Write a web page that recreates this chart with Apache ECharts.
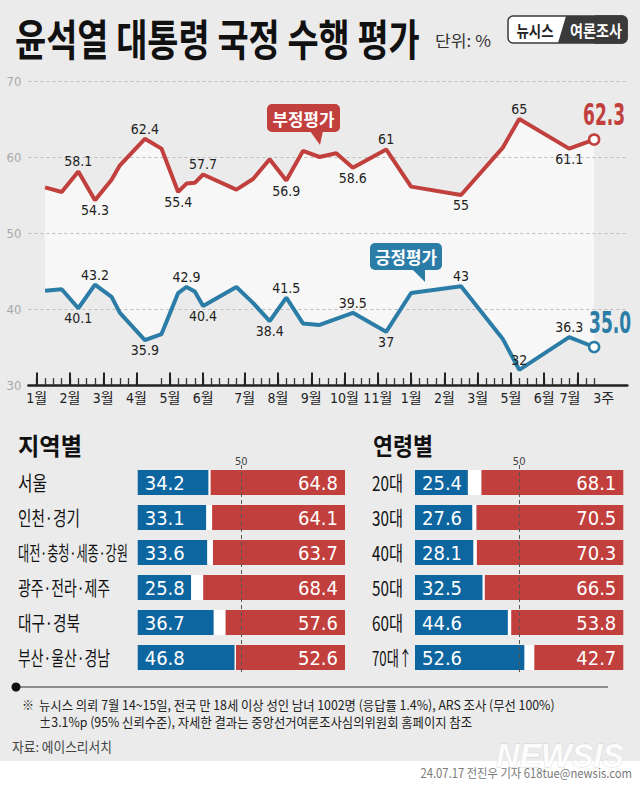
<!DOCTYPE html>
<html><head><meta charset="utf-8">
<script src="https://cdn.jsdelivr.net/npm/echarts@6/dist/echarts.min.js"></script>
<style>html,body{margin:0;padding:0;background:#fff}#c{width:640px;height:785px}</style>
</head><body><div id="c"></div>
<script>
const NARROW = "'Liberation Sans Narrow','DejaVu Sans Condensed','Noto Sans CJK KR',sans-serif";
const KR = "'Noto Sans CJK KR','Noto Sans',sans-serif";
const RED = '#c1403d', BLUE = '#2b7da7', BAR_BLUE = '#0e66a0', BAR_RED = '#c1403d', BG = '#ebebeb', LIGHT = '#f7f7f7';

// ---- line chart data (week index from first January tick) ----
const monthTicks = [0,4,8,12,16,20,25,29,33,37,41,45,49,53,57,61,65,67];
const monthLabels = ['1월','2월','3월','4월','5월','6월','7월','8월','9월','10월','11월','1월','2월','3월','5월','6월','7월','3주'];
const hiddenTicks = [13,14];
const negWeeks = [1,3,5,7,9,10,13,15,17,18,19,20,24,26,28,30,32,34,36,38,42,45,51,56,58,64,67];
const negValues = [56.0,55.4,58.1,54.3,57.0,58.9,62.4,61.1,55.4,56.5,56.6,57.7,55.7,57.1,59.7,56.9,60.8,60.0,60.5,58.6,61,56.1,55,61.2,65,61.1,62.3];
const posWeeks = [1,3,5,7,9,10,13,15,17,18,19,20,24,26,28,30,32,34,38,42,45,51,56,58,64,67];
const posValues = [42.4,42.6,40.1,43.2,41.6,39.5,35.9,36.7,42.1,42.9,42.3,40.4,42.9,40.8,38.4,41.5,38.1,37.9,39.5,37,42.1,43,36.1,32,36.3,35.0];
const negLabelWeeks = [5,7,13,17,20,30,38,42,51,58,64];
const negLabelSide  = ['top','bottom','top','bottom','top','bottom','bottom','top','bottom','top','bottom'];
const posLabelWeeks = [5,7,13,18,20,28,30,38,42,51,58,64];
const posLabelSide  = ['bottom','top','bottom','top','bottom','bottom','top','top','bottom','top','top','top'];
const yTicks = [30,40,50,60,70];

// ---- bar chart data ----
const regions = ['서울','인천·경기','대전·충청·세종·강원','광주·전라·제주','대구·경북','부산·울산·경남'];
const regionPos = [34.2,33.1,33.6,25.8,36.7,46.8];
const regionNeg = [64.8,64.1,63.7,68.4,57.6,52.6];
const ages = ['20대','30대','40대','50대','60대','70대↑'];
const agePos = [25.4,27.6,28.1,32.5,44.6,52.6];
const ageNeg = [68.1,70.5,70.3,66.5,53.8,42.7];

const cats = [];
for (let w = -1; w <= 71; w++) cats.push('w' + w);

function lineData(weeks, vals, lw, ls, color) {
  return weeks.map((w, i) => {
    const item = { value: ['w' + w, vals[i]] };
    const k = lw.indexOf(w);
    if (k >= 0) item.label = { show: true, position: ls[k] };
    if (i === weeks.length - 1) {
      item.symbolSize = 10;
      item.itemStyle = { color: '#fff', borderColor: color, borderWidth: 2.5 };
    }
    return item;
  });
}
function areaData(weeks, vals) { return weeks.map((w, i) => ['w' + w, vals[i]]); }

const lineLabel = { show: false, color: '#222', fontSize: 14, fontFamily: NARROW, distance: 3,
  formatter: p => String(p.value[1]) };

const chart = echarts.init(document.getElementById('c'), null, { renderer: 'svg' });

function barSeries(stack, xi, yi, pos, neg) {
  const lbl = { show: true, color: '#fff', fontSize: 20, fontFamily: NARROW, distance: 7,
    formatter: p => p.value.toFixed(1) };
  return [
    { type: 'bar', stack, xAxisIndex: xi, yAxisIndex: yi, data: pos, barWidth: 25, silent: true,
      itemStyle: { color: BAR_BLUE }, label: Object.assign({ position: 'insideLeft' }, lbl) },
    { type: 'bar', stack, xAxisIndex: xi, yAxisIndex: yi, data: pos.map((p, i) => +(100 - p - neg[i]).toFixed(1)),
      barWidth: 25, silent: true, itemStyle: { color: '#ffffff' } },
    { type: 'bar', stack, xAxisIndex: xi, yAxisIndex: yi, data: neg, barWidth: 25, silent: true,
      itemStyle: { color: BAR_RED }, label: Object.assign({ position: 'insideRight' }, lbl),
      markLine: { silent: true, symbol: 'none', label: { show: false },
        lineStyle: { type: [4, 3], color: '#555', width: 1 }, data: [{ xAxis: 50 }] } }
  ];
}

const option = {
  backgroundColor: BG,
  animation: false,
  grid: [
    { left: 28.4, top: 81, width: 599, height: 304 },
    { left: 137.7, top: 465, width: 207.3, height: 210 },
    { left: 415, top: 465, width: 208.3, height: 210 }
  ],
  xAxis: [
    { type: 'category', gridIndex: 0, data: cats, boundaryGap: false, position: 'bottom', z: 3,
      axisLine: { lineStyle: { color: '#222', width: 2.5 } },
      axisTick: { inside: true, length: 7, lineStyle: { color: '#333', width: 1.3 },
        interval: (i) => { const w = i - 1; return w >= 0 && w <= 67 && hiddenTicks.indexOf(w) < 0; } },
      axisLabel: { show: false }, splitLine: { show: false } },
    { type: 'category', gridIndex: 0, data: cats, boundaryGap: false, position: 'bottom', z: 3,
      axisLine: { show: false },
      axisTick: { inside: true, length: 12.5, lineStyle: { color: '#222', width: 2 },
        interval: (i) => { const w = i - 1; return monthTicks.indexOf(w) >= 0 && w !== 67; } },
      axisLabel: { interval: (i) => monthTicks.indexOf(i - 1) >= 0, margin: 6, color: '#222', fontSize: 14,
        fontFamily: NARROW,
        formatter: (v, i) => { const w = i - 1; const k = monthTicks.indexOf(w); if (k < 0) return '';
          const s = monthLabels[k]; if (w === 65) return '{l|' + s + '}'; if (w === 67) return '{r|' + s + '}'; return s; },
        rich: { l: { padding: [0, 15, 0, 0], fontSize: 14, fontFamily: NARROW, color: '#222' },
                r: { padding: [0, 0, 0, 19], fontSize: 14, fontFamily: NARROW, color: '#222' } } },
      splitLine: { show: false } },
    { type: 'value', gridIndex: 1, min: 0, max: 100, show: false },
    { type: 'value', gridIndex: 2, min: 0, max: 100, show: false }
  ],
  yAxis: [
    { type: 'value', gridIndex: 0, min: yTicks[0], max: yTicks[yTicks.length - 1], interval: 10, z: 1.5,
      axisLine: { show: false }, axisTick: { show: false },
      axisLabel: { color: '#a8a8a8', fontSize: 13, margin: 7, fontFamily: NARROW },
      splitLine: { lineStyle: { color: '#bcbcbc', type: [3, 3], width: 1 } } },
    { type: 'category', gridIndex: 1, data: regions, inverse: true, show: false },
    { type: 'category', gridIndex: 2, data: ages, inverse: true, show: false }
  ],
  series: [
    { type: 'line', xAxisIndex: 0, yAxisIndex: 0, data: areaData(negWeeks, negValues), z: 1, silent: true,
      symbol: 'none', lineStyle: { opacity: 0 }, areaStyle: { color: LIGHT, opacity: 1, origin: 'start' } },
    { type: 'line', xAxisIndex: 0, yAxisIndex: 0, data: areaData(posWeeks, posValues), z: 1, silent: true,
      symbol: 'none', lineStyle: { opacity: 0 }, areaStyle: { color: BG, opacity: 1, origin: 'start' } },
    { type: 'line', xAxisIndex: 0, yAxisIndex: 0, data: lineData(negWeeks, negValues, negLabelWeeks, negLabelSide, RED),
      z: 2, symbol: 'circle', symbolSize: 0, showAllSymbol: true, silent: true,
      lineStyle: { color: RED, width: 4 }, itemStyle: { color: RED }, label: lineLabel },
    { type: 'line', xAxisIndex: 0, yAxisIndex: 0, data: lineData(posWeeks, posValues, posLabelWeeks, posLabelSide, BLUE),
      z: 2, symbol: 'circle', symbolSize: 0, showAllSymbol: true, silent: true,
      lineStyle: { color: BLUE, width: 4 }, itemStyle: { color: BLUE }, label: lineLabel }
  ].concat(barSeries('r', 2, 1, regionPos, regionNeg), barSeries('a', 3, 2, agePos, ageNeg))
};
chart.setOption(option);

// ---- texts & decorations ----
const mctx = document.createElement('canvas').getContext('2d');
function measure(text, font) { mctx.font = font; return mctx.measureText(text).width; }
function T(text, x, y, size, o) {
  o = o || {};
  const weight = o.weight || 'normal', family = o.family || KR;
  const font = weight + ' ' + size + 'px ' + family;
  const sx = o.w ? o.w / measure(text, font) : (o.sx || 1);
  return { type: 'text', x: x, y: y, scaleX: sx, silent: true, z: o.z || 20,
    style: { text: text, x: 0, y: 0, fill: o.color || '#111', font: font, fontSize: size, fontFamily: family,
      fontWeight: weight, fontStyle: o.style || 'normal', align: o.align || 'left', verticalAlign: o.va || 'middle',
      stroke: o.stroke, lineWidth: o.lineWidth || 0, opacity: o.opacity == null ? 1 : o.opacity } };
}
const els = [];
// bottom white strip
els.push({ type: 'rect', shape: { x: 0, y: 761, width: 640, height: 24 }, style: { fill: '#fff' }, z: 0, silent: true });
// title
els.push(T('윤석열 대통령 국정 수행 평가', 15, 37, 43, { weight: 'bold', w: 405 }));
els.push(T('단위: %', 435, 40, 16, { color: '#333', w: 56 }));
// badge
els.push({ type: 'rect', shape: { x: 508, y: 16, width: 119, height: 27, r: 5 }, style: { fill: '#fff', stroke: '#3a3a3a', lineWidth: 1.5 }, z: 20, silent: true });
els.push({ type: 'polygon', shape: { points: [[566, 16], [605, 16], [605, 43], [558, 43]] }, style: { fill: '#3a3a3a' }, z: 21, silent: true });
els.push({ type: 'rect', shape: { x: 595, y: 16, width: 32, height: 27, r: [0, 5, 5, 0] }, style: { fill: '#3a3a3a', stroke: '#3a3a3a', lineWidth: 1.5 }, z: 21, silent: true });
els.push(T('뉴시스', 535, 30, 16, { weight: 'bold', w: 37, align: 'center', color: '#222', z: 22 }));
els.push(T('여론조사', 596, 30, 16, { weight: 'bold', w: 52, align: 'center', color: '#fff', z: 22 }));
// latest values (anchored to the last data point)
const lastNeg = chart.convertToPixel({ xAxisIndex: 0, yAxisIndex: 0 }, ['w' + negWeeks[negWeeks.length - 1], negValues[negValues.length - 1]]);
const lastPos = chart.convertToPixel({ xAxisIndex: 0, yAxisIndex: 0 }, ['w' + posWeeks[posWeeks.length - 1], posValues[posValues.length - 1]]);
els.push(T(negValues[negValues.length - 1].toFixed(1), lastNeg[0] + 10, lastNeg[1] - 25, 30, { weight: 'bold', family: NARROW, w: 42, align: 'center', color: RED }));
els.push(T(posValues[posValues.length - 1].toFixed(1), lastPos[0] + 16, lastPos[1] - 24, 30, { weight: 'bold', family: NARROW, w: 42, align: 'center', color: BLUE }));
// callouts
els.push({ type: 'rect', shape: { x: 267, y: 104, width: 73, height: 28, r: 5 }, style: { fill: RED }, z: 20, silent: true });
els.push({ type: 'polygon', shape: { points: [[310, 131], [323, 131], [320, 145]] }, style: { fill: RED }, z: 20, silent: true });
els.push(T('부정평가', 303.5, 118, 17, { weight: 'bold', w: 62, align: 'center', color: '#fff', z: 21 }));
els.push({ type: 'rect', shape: { x: 370, y: 243, width: 72, height: 27, r: 5 }, style: { fill: BLUE }, z: 20, silent: true });
els.push({ type: 'polygon', shape: { points: [[412, 269], [425, 269], [425, 282]] }, style: { fill: BLUE }, z: 20, silent: true });
els.push(T('긍정평가', 406, 256.5, 17, { weight: 'bold', w: 62, align: 'center', color: '#fff', z: 21 }));
// section titles
els.push(T('지역별', 18, 445, 24, { weight: 'bold', w: 64 }));
els.push(T('연령별', 373, 445, 24, { weight: 'bold', w: 60 }));
// row labels
const regionW = [29, 62, 110, 92, 62, 92];
const ageW = [31, 31, 31, 31, 31, 40];
regions.forEach((r, i) => {
  const y = chart.convertToPixel({ yAxisIndex: 1 }, r);
  els.push(T(r, 18, y, 20, { w: regionW[i] }));
});
ages.forEach((a, i) => {
  const y = chart.convertToPixel({ yAxisIndex: 2 }, a);
  els.push(T(a, 372, y, 20, { w: ageW[i] }));
});
// 50 marks
[2, 3].forEach(xi => {
  const x = chart.convertToPixel({ xAxisIndex: xi }, 50);
  els.push(T('50', x, 461, 11, { align: 'center', color: '#444', family: NARROW }));
});
// footer
els.push({ type: 'line', shape: { x1: 16, y1: 687, x2: 608, y2: 687 }, style: { stroke: '#333', lineWidth: 1 }, z: 20, silent: true });
els.push({ type: 'circle', shape: { cx: 16, cy: 687, r: 4.5 }, style: { fill: '#111' }, z: 21, silent: true });
const fn1 = '뉴시스 의뢰 7월 14~15일, 전국 만 18세 이상 성인 남녀 1002명 (응답률 1.4%), ARS 조사 (무선 100%)';
const fn2 = '±3.1%p (95% 신뢰수준), 자세한 결과는 중앙선거여론조사심의위원회 홈페이지 참조';
const fnFont = 'normal 13px ' + KR;
const fnSx = 516 / measure(fn1, fnFont);
els.push(T('※', 22, 704, 12, { color: '#222' }));
els.push(T(fn1, 39, 704, 13, { sx: fnSx, color: '#222' }));
els.push(T(fn2, 39, 721, 13, { sx: fnSx, color: '#222' }));
els.push(T('자료: 에이스리서치', 12, 746, 13.5, { w: 100, color: '#444' }));
els.push(T('NEWSIS', 624, 755, 34, { weight: 'bold', style: 'italic', family: "'Liberation Sans','DejaVu Sans',sans-serif",
  w: 128, align: 'right', color: '#ffffff', stroke: '#d4d4d4', lineWidth: 0.8, opacity: 0.9, z: 5 }));
els.push(T('24.07.17 전진우 기자 618tue@newsis.com', 632, 772, 12.5, { w: 212, align: 'right', color: '#7a7a7a' }));

chart.setOption({ graphic: els });
</script></body></html>
